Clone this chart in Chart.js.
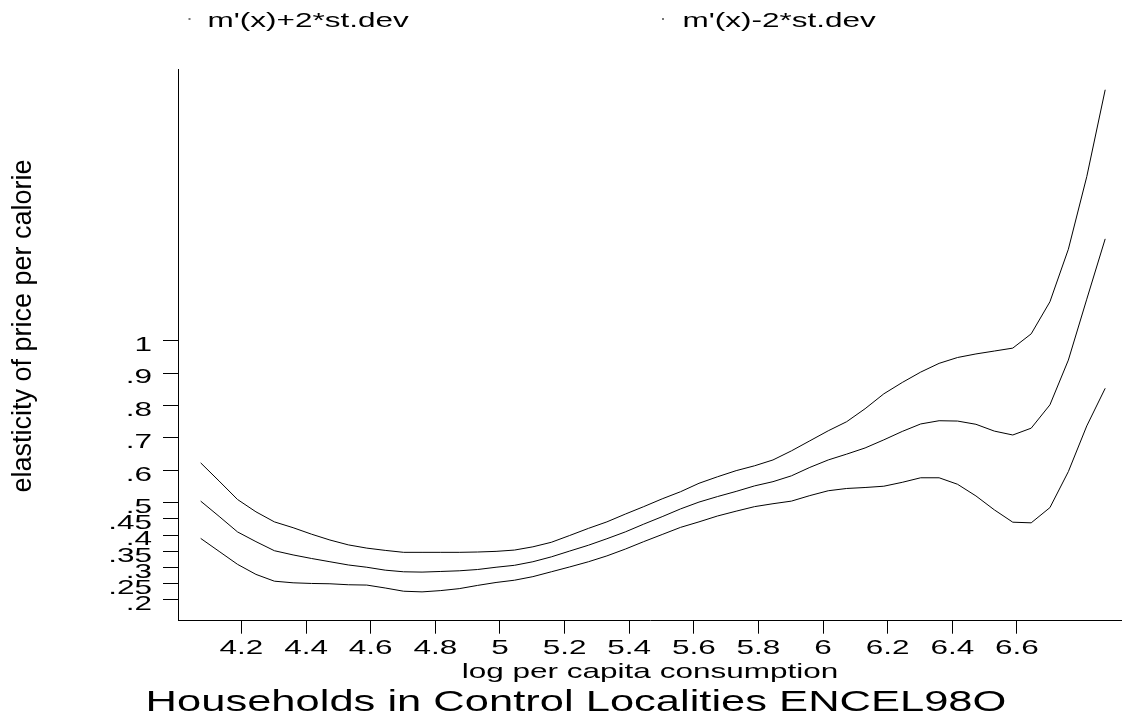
<!DOCTYPE html>
<html>
<head>
<meta charset="utf-8">
<script src="https://cdn.jsdelivr.net/npm/chart.js@4.4.0/dist/chart.umd.min.js"></script>
<style>
  html, body { margin: 0; padding: 0; background: #ffffff; }
  canvas { display: block; }
</style>
</head>
<body>
<canvas id="c" width="1122" height="723"></canvas>
<script>
// ---------------- data ----------------
const xValues = [
  4.074, 4.131, 4.188, 4.245, 4.302, 4.360, 4.417, 4.474, 4.531, 4.588,
  4.645, 4.702, 4.759, 4.817, 4.874, 4.931, 4.988, 5.045, 5.102, 5.159,
  5.216, 5.274, 5.331, 5.388, 5.445, 5.502, 5.559, 5.616, 5.673, 5.731,
  5.788, 5.845, 5.902, 5.959, 6.016, 6.073, 6.130, 6.188, 6.245, 6.302,
  6.359, 6.416, 6.473, 6.530, 6.587, 6.644, 6.702, 6.759, 6.816, 6.873
];
const upperBand = [
  0.623, 0.567, 0.510, 0.472, 0.441, 0.423, 0.403, 0.385, 0.370, 0.360,
  0.353, 0.347, 0.347, 0.347, 0.347, 0.348, 0.350, 0.354, 0.364, 0.378,
  0.399, 0.421, 0.441, 0.465, 0.488, 0.512, 0.534, 0.560, 0.580, 0.599,
  0.614, 0.632, 0.660, 0.691, 0.722, 0.750, 0.790, 0.836, 0.871, 0.903,
  0.930, 0.948, 0.959, 0.968, 0.977, 1.021, 1.120, 1.282, 1.506, 1.774
];
const derivative = [
  0.505, 0.458, 0.410, 0.380, 0.352, 0.339, 0.328, 0.318, 0.308, 0.301,
  0.292, 0.287, 0.286, 0.288, 0.290, 0.294, 0.301, 0.307, 0.318, 0.333,
  0.351, 0.369, 0.389, 0.410, 0.434, 0.457, 0.481, 0.502, 0.519, 0.535,
  0.552, 0.565, 0.583, 0.609, 0.632, 0.650, 0.669, 0.694, 0.720, 0.743,
  0.753, 0.752, 0.742, 0.721, 0.709, 0.730, 0.802, 0.940, 1.128, 1.314
];
const lowerBand = [
  0.390, 0.350, 0.310, 0.279, 0.258, 0.253, 0.251, 0.250, 0.247, 0.246,
  0.237, 0.227, 0.225, 0.229, 0.235, 0.245, 0.254, 0.261, 0.272, 0.287,
  0.302, 0.318, 0.336, 0.357, 0.380, 0.402, 0.424, 0.441, 0.459, 0.474,
  0.488, 0.497, 0.505, 0.522, 0.537, 0.544, 0.547, 0.551, 0.563, 0.577,
  0.577, 0.557, 0.521, 0.478, 0.440, 0.438, 0.485, 0.596, 0.737, 0.853
];
const xTicks = [4.2, 4.4, 4.6, 4.8, 5, 5.2, 5.4, 5.6, 5.8, 6, 6.2, 6.4, 6.6];
const yTicks = [0.2, 0.25, 0.3, 0.35, 0.4, 0.45, 0.5, 0.6, 0.7, 0.8, 0.9, 1];
const yTickLabels = ['.2', '.25', '.3', '.35', '.4', '.45', '.5', '.6', '.7', '.8', '.9', '1'];
const seriesLabels = ["m'(x)+2*st.dev", "m'(x)", "m'(x)-2*st.dev"];
const legendLabels = ["m'(x)+2*st.dev", "m'(x)-2*st.dev"];
const xTitle = 'log per capita consumption';
const yTitle = 'elasticity of price per calorie';
const chartTitle = 'Households in Control Localities ENCEL98O';

// ---------------- rendering ----------------
const FONT = "'Liberation Sans', Arial, Helvetica, sans-serif";
const canvas = document.getElementById('c');
const ctx = canvas.getContext('2d');

// The original graph uses horizontally widened lettering for horizontal text.
const TEXT_STRETCH = 1.5;
const rawFillText = ctx.fillText.bind(ctx);
ctx.fillText = function (text, x, y) {
  const m = ctx.getTransform();
  if (Math.abs(m.b) > 1e-6 || Math.abs(m.c) > 1e-6) { rawFillText(text, x, y); return; }
  ctx.save();
  ctx.translate(x, y);
  ctx.scale(TEXT_STRETCH, 1);
  rawFillText(text, 0, 0);
  ctx.restore();
};

// Stata-style legend (two labelled items, spread across the top) and the
// vertical axis title, which in the original sits a little above the axis centre.
const stataAnnotations = {
  id: 'stataAnnotations',
  afterDraw(chart, args, opts) {
    const c = chart.ctx;
    c.save();
    c.font = opts.legendSize + 'px ' + FONT;
    c.textAlign = 'left';
    c.textBaseline = 'alphabetic';
    opts.items.forEach((it, i) => {
      c.fillStyle = '#777';
      c.fillRect(it.dotX - 1, opts.dotY - 1, 2, 2);
      c.fillStyle = '#000';
      c.fillText(legendLabels[i], it.textX, opts.baseline);
    });
    c.restore();

    c.save();
    c.font = opts.yTitleSize + 'px ' + FONT;
    c.fillStyle = '#000';
    c.textAlign = 'center';
    c.textBaseline = 'middle';
    c.translate(opts.yTitleX, opts.yTitleY);
    c.rotate(-Math.PI / 2);
    c.fillText(yTitle, 0, 0);
    c.restore();
  }
};

function series(values) {
  return xValues.map((x, i) => ({ x: x, y: values[i] }));
}
const lineStyle = { borderColor: '#000', backgroundColor: '#000', borderWidth: 1, pointRadius: 0, tension: 0, fill: false };

new Chart(ctx, {
  type: 'line',
  data: {
    datasets: [
      Object.assign({ label: seriesLabels[0], data: series(upperBand) }, lineStyle),
      Object.assign({ label: seriesLabels[1], data: series(derivative) }, lineStyle),
      Object.assign({ label: seriesLabels[2], data: series(lowerBand) }, lineStyle)
    ]
  },
  plugins: [stataAnnotations],
  options: {
    responsive: false,
    animation: false,
    devicePixelRatio: 1,
    events: [],
    layout: { padding: { top: 69.5, left: 30, right: 0, bottom: 0 } },
    plugins: {
      legend: { display: false },
      tooltip: { enabled: false },
      title: {
        display: true, position: 'bottom', text: chartTitle, color: '#000',
        font: { family: FONT, size: 29, weight: 'normal', lineHeight: 1.2 },
        padding: { top: 0, bottom: 3 }
      },
      stataAnnotations: {
        legendSize: 21, dotY: 19, baseline: 26.7,
        items: [{ dotX: 189.5, textX: 207.5 }, { dotX: 663, textX: 682.5 }],
        yTitleSize: 27, yTitleX: 23.9, yTitleY: 326
      }
    },
    scales: {
      x: {
        type: 'linear', position: 'bottom', min: 4.0038, max: 6.925,
        afterBuildTicks: s => { s.ticks = xTicks.map(v => ({ value: v })); },
        afterFit: s => { s.height = 64.5; },
        ticks: {
          autoSkip: false, maxRotation: 0, minRotation: 0, padding: 2, color: '#000',
          font: { family: FONT, size: 21, lineHeight: 1.2 },
          callback: v => String(v)
        },
        grid: { display: true, drawOnChartArea: false, drawTicks: true, tickLength: 13, color: '#000', lineWidth: 1 },
        border: { display: true, color: '#000', width: 1 },
        title: {
          display: true, text: xTitle, color: '#000',
          font: { family: FONT, size: 21, lineHeight: 1.2 },
          padding: { top: 0, bottom: 0 }
        }
      },
      y: {
        type: 'linear', position: 'left', min: 0.1361, max: 1.8365,
        afterBuildTicks: s => { s.ticks = yTicks.map(v => ({ value: v })); },
        afterFit: s => { s.width = 148; },
        ticks: {
          autoSkip: false, padding: 11, labelOffset: 4.5, color: '#000',
          font: { family: FONT, size: 21, lineHeight: 1.2 },
          callback: v => { const k = yTicks.indexOf(v); return k >= 0 ? yTickLabels[k] : ''; }
        },
        grid: { display: true, drawOnChartArea: false, drawTicks: true, tickLength: 15, color: '#000', lineWidth: 1 },
        border: { display: true, color: '#000', width: 1 },
        title: { display: false, text: yTitle }
      }
    }
  }
});
</script>
</body>
</html>
